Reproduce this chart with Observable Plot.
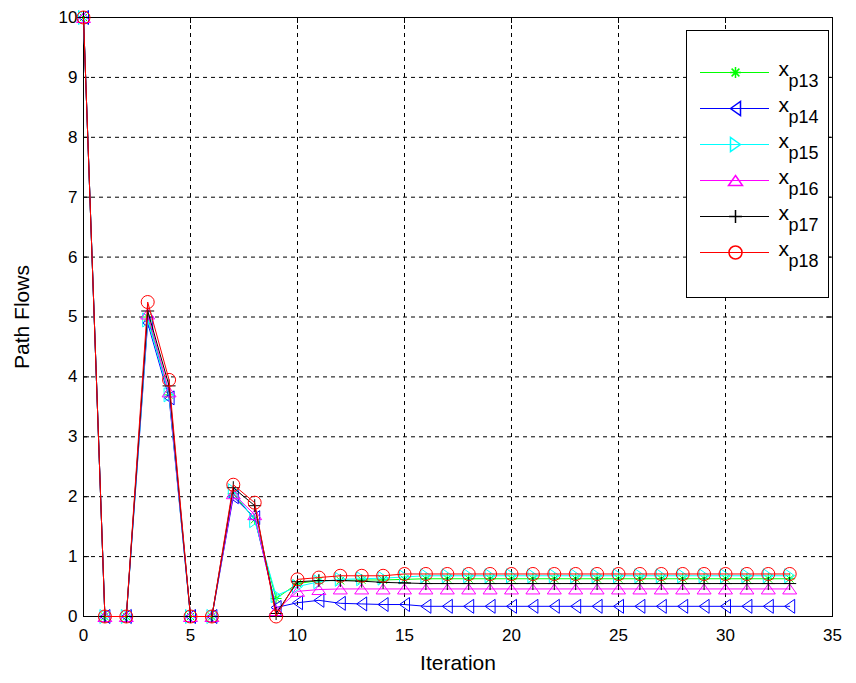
<!DOCTYPE html>
<html><head><meta charset="utf-8">
<script src="https://cdn.jsdelivr.net/npm/d3@7"></script>
<script src="https://cdn.jsdelivr.net/npm/@observablehq/plot@0.6"></script>
<style>
body{margin:0;background:#fff;}
#wrap{position:relative;width:856px;height:683px;font-family:"Liberation Sans",Arial,sans-serif;}
#legend{position:absolute;left:686px;top:30px;}
</style>
</head><body>
<div id="wrap"><div id="chart"></div><div id="legend"></div></div>
<script>
const iterations = [0,1,2,3,4,5,6,7,8,9,10,11,12,13,14,15,16,17,18,19,20,21,22,23,24,25,26,27,28,29,30,31,32,33];
const xp13 = [10,0,0,5.0,3.7,0,0,2.05,1.62,0.3,0.55,0.6,0.6,0.61,0.61,0.62,0.63,0.63,0.63,0.63,0.63,0.63,0.63,0.63,0.63,0.63,0.63,0.63,0.63,0.63,0.63,0.63,0.63,0.63];
const xp14 = [10,0,0,4.9,3.65,0,0,2.0,1.65,0.15,0.23,0.27,0.22,0.21,0.2,0.2,0.17,0.17,0.17,0.17,0.17,0.17,0.17,0.17,0.17,0.17,0.17,0.17,0.17,0.17,0.17,0.17,0.17,0.17];
const xp15 = [10,0,0,4.95,3.7,0,0,2.1,1.6,0.35,0.5,0.58,0.62,0.63,0.64,0.66,0.68,0.68,0.68,0.68,0.68,0.68,0.68,0.68,0.68,0.68,0.68,0.68,0.68,0.68,0.68,0.68,0.68,0.68];
const xp16 = [10,0,0,5.05,3.75,0,0,2.05,1.7,0.1,0.42,0.45,0.46,0.46,0.46,0.46,0.46,0.46,0.46,0.46,0.46,0.46,0.46,0.46,0.46,0.46,0.46,0.46,0.46,0.46,0.46,0.46,0.46,0.46];
const xp17 = [10,0,0,5.1,3.85,0,0,2.15,1.85,0.05,0.58,0.6,0.6,0.59,0.57,0.56,0.55,0.55,0.55,0.55,0.55,0.55,0.55,0.55,0.55,0.55,0.55,0.55,0.55,0.55,0.55,0.55,0.55,0.55];
const xp18 = [10,0,0,5.25,3.95,0,0,2.2,1.9,0.0,0.62,0.65,0.68,0.68,0.68,0.71,0.71,0.71,0.71,0.71,0.71,0.71,0.71,0.71,0.71,0.71,0.71,0.71,0.71,0.71,0.71,0.71,0.71,0.71];
const seriesKeys = ["p13","p14","p15","p16","p17","p18"];
const seriesValues = [xp13, xp14, xp15, xp16, xp17, xp18];
const seriesColors = ["#00ff00","#0000ff","#00ffff","#ff00ff","#000000","#ff0000"];
const xTicks = [0,5,10,15,20,25,30,35];
const yTicks = [0,1,2,3,4,5,6,7,8,9,10];
const xLabel = "Iteration";
const yLabel = "Path Flows";

function sym(f){ return {draw(ctx, size){ const r = Math.sqrt(size/Math.PI); f(ctx, r); }}; }
const symbols = [
  sym((c,r)=>{ const d=r*0.7071; c.moveTo(-r,0);c.lineTo(r,0);c.moveTo(0,-r);c.lineTo(0,r);c.moveTo(-d,-d);c.lineTo(d,d);c.moveTo(-d,d);c.lineTo(d,-d); }),
  sym((c,r)=>{ c.moveTo(-r,0);c.lineTo(r,-1.4*r);c.lineTo(r,1.4*r);c.closePath(); }),
  sym((c,r)=>{ c.moveTo(r,0);c.lineTo(-r,-1.4*r);c.lineTo(-r,1.4*r);c.closePath(); }),
  sym((c,r)=>{ c.moveTo(0,-r);c.lineTo(1.4*r,r);c.lineTo(-1.4*r,r);c.closePath(); }),
  sym((c,r)=>{ c.moveTo(-r,0);c.lineTo(r,0);c.moveTo(0,-r);c.lineTo(0,r); }),
  sym((c,r)=>{ c.moveTo(r,0);c.arc(0,0,r,0,2*Math.PI); })
];
const radii = [5.5,5,5,5,6.5,6.5];

const seriesMarks = [];
seriesKeys.forEach((k,i)=>{
  const rows = iterations.map((t,j)=>({t, v: seriesValues[i][j]}));
  seriesMarks.push(Plot.line(rows,{x:"t",y:"v",stroke:seriesColors[i],strokeWidth:1}));
  seriesMarks.push(Plot.dot(rows,{x:"t",y:"v",stroke:seriesColors[i],fill:"none",strokeWidth:1,symbol:symbols[i],r:radii[i]}));
});

const chart = Plot.plot({
  width:856, height:683,
  marginLeft:83, marginRight:24, marginTop:17, marginBottom:67,
  x:{domain:[0,35]},
  y:{domain:[0,10]},
  style:{fontFamily:'"Liberation Sans", Arial, sans-serif', fontSize:"17px", background:"white", color:"black", overflow:"visible"},
  marks:[
    Plot.ruleX(xTicks.slice(1,-1),{stroke:"black",strokeDasharray:"4,4",strokeWidth:1}),
    Plot.ruleY(yTicks.slice(1,-1),{stroke:"black",strokeDasharray:"4,4",strokeWidth:1}),
    Plot.ruleX(xTicks,{y1:0,y2:0.1,stroke:"black"}),
    Plot.ruleX(xTicks,{y1:10,y2:9.9,stroke:"black"}),
    Plot.ruleY(yTicks,{x1:0,x2:0.28,stroke:"black"}),
    Plot.ruleY(yTicks,{x1:35,x2:34.72,stroke:"black"}),
    Plot.frame({stroke:"black"}),
    Plot.axisX(xTicks,{tickSize:0,tickPadding:12,fontSize:17,tickFormat:d3.format("d"),label:null}),
    Plot.axisY(yTicks,{tickSize:0,tickPadding:6,fontSize:17,tickFormat:d3.format("d"),label:null}),
    Plot.text([xLabel],{frameAnchor:"bottom",lineAnchor:"middle",dy:47,fontSize:21,fill:"black"}),
    Plot.text([yLabel],{frameAnchor:"left",textAnchor:"middle",lineAnchor:"middle",dx:-61,rotate:-90,fontSize:21,fill:"black"}),
    ...seriesMarks
  ]
});
document.getElementById("chart").appendChild(chart);

const legendRows = seriesKeys.map((k,i)=>({k, i}));
const legend = Plot.plot({
  width:142, height:267, margin:0,
  x:{domain:[0,142], range:[0,142], axis:null},
  y:{type:"point", domain:seriesKeys, range:[24,240], axis:null},
  style:{fontFamily:'"Liberation Sans", Arial, sans-serif', background:"white", overflow:"visible"},
  marks:[
    Plot.frame({stroke:"black",fill:"white"}),
    ...legendRows.map(d=>Plot.ruleY([d.k],{x1:14,x2:83,stroke:seriesColors[d.i]})),
    ...legendRows.map(d=>Plot.dot([d],{x:()=>49,y:"k",stroke:seriesColors[d.i],fill:"none",symbol:symbols[d.i],r:radii[d.i]})),
    Plot.text(legendRows,{x:()=>92,y:"k",text:()=>"x",textAnchor:"start",fontSize:21,dy:-3,fill:"black"}),
    Plot.text(legendRows,{x:()=>102,y:"k",text:"k",textAnchor:"start",fontSize:18,dy:9,fill:"black"})
  ]
});
document.getElementById("legend").appendChild(legend);
</script>
</body></html>
